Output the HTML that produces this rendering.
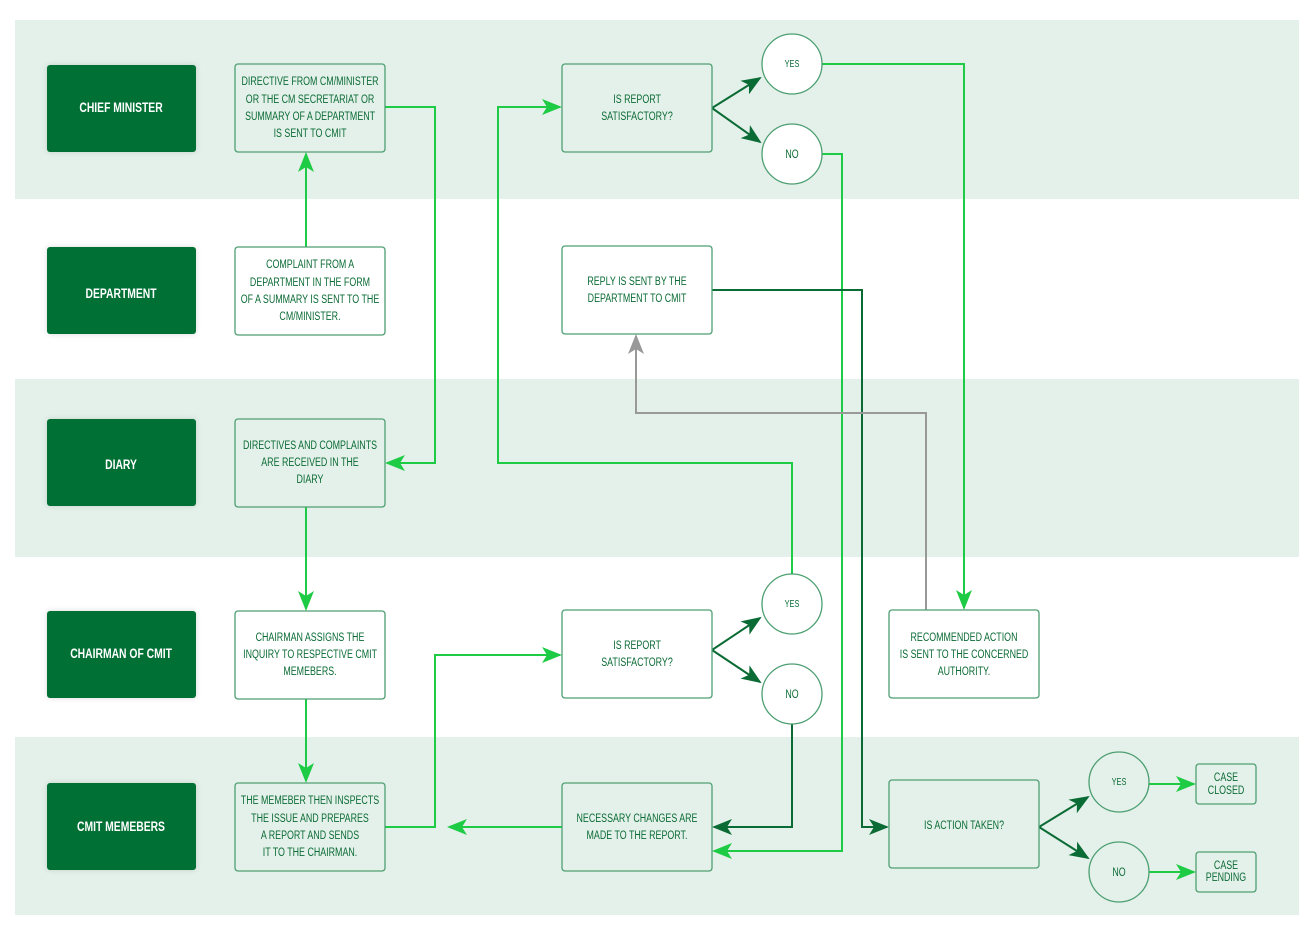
<!DOCTYPE html>
<html><head><meta charset="utf-8"><style>
html,body{margin:0;padding:0;background:#fff;}
svg{display:block;}
text{font-family:"Liberation Sans Narrow","Liberation Sans",sans-serif;transform-box:fill-box;transform-origin:center;transform:scaleX(0.74);}
.lbl{fill:#fff;font-weight:bold;font-size:14px;text-anchor:middle;}
.t{fill:#0b6b35;font-size:12px;text-anchor:middle;}
.box{fill:none;stroke:#4d9f72;stroke-width:1.3;}
.lab{fill:#006f35;}
.g{fill:none;stroke:#1ecb45;stroke-width:2;}
.d{fill:none;stroke:#0b6b35;stroke-width:2;}
.y{fill:none;stroke:#999;stroke-width:2;}
</style></head><body>
<svg width="1315" height="929" viewBox="0 0 1315 929" xmlns="http://www.w3.org/2000/svg">
<defs>
<marker id="ag" viewBox="0 0 20 16" refX="18" refY="8" markerWidth="20" markerHeight="16" markerUnits="userSpaceOnUse" orient="auto"><path d="M0,0 L20,8 L0,16 L5,8 Z" fill="#1ecb45"/></marker>
<marker id="ad" viewBox="0 0 20 16" refX="18" refY="8" markerWidth="20" markerHeight="16" markerUnits="userSpaceOnUse" orient="auto"><path d="M0,0 L20,8 L0,16 L5,8 Z" fill="#0b6b35"/></marker>
<marker id="ay" viewBox="0 0 20 16" refX="18" refY="8" markerWidth="20" markerHeight="16" markerUnits="userSpaceOnUse" orient="auto"><path d="M0,0 L20,8 L0,16 L5,8 Z" fill="#999"/></marker>
<filter id="sh" x="-20%" y="-20%" width="140%" height="140%"><feDropShadow dx="0" dy="0" stdDeviation="3" flood-color="#000" flood-opacity="0.15"/></filter>
</defs>
<rect x="15" y="20" width="1284" height="179" fill="#e4f1ea"/>
<rect x="15" y="379" width="1284" height="178" fill="#e4f1ea"/>
<rect x="15" y="737" width="1284" height="178" fill="#e4f1ea"/>

<g filter="url(#sh)">
<rect class="lab" x="47" y="65" width="149" height="87" rx="3"/>
<rect class="lab" x="47" y="247" width="149" height="87" rx="3"/>
<rect class="lab" x="47" y="419" width="149" height="87" rx="3"/>
<rect class="lab" x="47" y="611" width="149" height="87" rx="3"/>
<rect class="lab" x="47" y="783" width="149" height="87" rx="3"/>
</g>
<text class="lbl" x="121" y="112">CHIEF MINISTER</text>
<text class="lbl" x="121" y="298">DEPARTMENT</text>
<text class="lbl" x="121" y="469">DIARY</text>
<text class="lbl" x="121" y="658">CHAIRMAN OF CMIT</text>
<text class="lbl" x="121" y="831">CMIT MEMEBERS</text>

<path class="g" d="M306,247 V154" marker-end="url(#ag)"/>
<path class="g" d="M385,107 H435 V463 H387" marker-end="url(#ag)"/>
<path class="g" d="M306,507 V609" marker-end="url(#ag)"/>
<path class="g" d="M306,699 V781" marker-end="url(#ag)"/>
<path class="g" d="M385,827 H435 V655 H560" marker-end="url(#ag)"/>
<path class="g" d="M562,827 H449" marker-end="url(#ag)"/>
<path class="d" d="M712,650 L760,618" marker-end="url(#ad)"/>
<path class="d" d="M712,650 L760,682" marker-end="url(#ad)"/>
<path class="g" d="M792,574 V463 H498 V107 H560" marker-end="url(#ag)"/>
<path class="d" d="M792,724 V827 H714" marker-end="url(#ad)"/>
<path class="d" d="M712,108 L760,78" marker-end="url(#ad)"/>
<path class="d" d="M712,108 L760,142" marker-end="url(#ad)"/>
<path class="g" d="M822,64 H964 V608" marker-end="url(#ag)"/>
<path class="g" d="M822,154 H842 V851 H714" marker-end="url(#ag)"/>
<path class="d" d="M712,290 H862 V827 H887" marker-end="url(#ad)"/>
<path class="y" d="M926,610 V413 H636 V336" marker-end="url(#ay)"/>
<path class="d" d="M1039,827 L1088,797" marker-end="url(#ad)"/>
<path class="d" d="M1039,827 L1088,858" marker-end="url(#ad)"/>
<path class="g" d="M1149,784 H1194" marker-end="url(#ag)"/>
<path class="g" d="M1149,872 H1194" marker-end="url(#ag)"/>

<g>
<rect class="box" x="235" y="64" width="150" height="88" rx="3"/>
<rect class="box" x="235" y="247" width="150" height="88" rx="3" style="fill:#fff"/>
<rect class="box" x="235" y="419" width="150" height="88" rx="3"/>
<rect class="box" x="235" y="611" width="150" height="88" rx="3" style="fill:#fff"/>
<rect class="box" x="235" y="783" width="150" height="88" rx="3"/>
<rect class="box" x="562" y="64" width="150" height="88" rx="3"/>
<rect class="box" x="562" y="246" width="150" height="88" rx="3" style="fill:#fff"/>
<rect class="box" x="562" y="610" width="150" height="88" rx="3" style="fill:#fff"/>
<rect class="box" x="562" y="783" width="150" height="88" rx="3"/>
<rect class="box" x="889" y="610" width="150" height="88" rx="3" style="fill:#fff"/>
<rect class="box" x="889" y="780" width="150" height="88" rx="3"/>
<rect class="box" x="1196" y="764" width="60" height="40" rx="3"/>
<rect class="box" x="1196" y="852" width="60" height="40" rx="3"/>
<circle class="box" cx="792" cy="64" r="30" style="fill:#fff"/>
<circle class="box" cx="792" cy="154" r="30" style="fill:#fff"/>
<circle class="box" cx="792" cy="604" r="30" style="fill:#fff"/>
<circle class="box" cx="792" cy="694" r="30" style="fill:#fff"/>
<circle class="box" cx="1119" cy="782" r="30"/>
<circle class="box" cx="1119" cy="872" r="30"/>
</g>

<text class="t" x="310" y="85">DIRECTIVE FROM CM/MINISTER</text>
<text class="t" x="310" y="103">OR THE CM SECRETARIAT OR</text>
<text class="t" x="310" y="120">SUMMARY OF A DEPARTMENT</text>
<text class="t" x="310" y="137">IS SENT TO CMIT</text>
<text class="t" x="310" y="268">COMPLAINT FROM A</text>
<text class="t" x="310" y="286">DEPARTMENT IN THE FORM</text>
<text class="t" x="310" y="303">OF A SUMMARY IS SENT TO THE</text>
<text class="t" x="310" y="320">CM/MINISTER.</text>
<text class="t" x="310" y="449">DIRECTIVES AND COMPLAINTS</text>
<text class="t" x="310" y="466">ARE RECEIVED IN THE</text>
<text class="t" x="310" y="483">DIARY</text>
<text class="t" x="310" y="641">CHAIRMAN ASSIGNS THE</text>
<text class="t" x="310" y="658">INQUIRY TO RESPECTIVE CMIT</text>
<text class="t" x="310" y="675">MEMEBERS.</text>
<text class="t" x="310" y="804">THE MEMEBER THEN INSPECTS</text>
<text class="t" x="310" y="822">THE ISSUE AND PREPARES</text>
<text class="t" x="310" y="839">A REPORT AND SENDS</text>
<text class="t" x="310" y="856">IT TO THE CHAIRMAN.</text>
<text class="t" x="637" y="103">IS REPORT</text>
<text class="t" x="637" y="120">SATISFACTORY?</text>
<text class="t" x="637" y="285">REPLY IS SENT BY THE</text>
<text class="t" x="637" y="302">DEPARTMENT TO CMIT</text>
<text class="t" x="637" y="649">IS REPORT</text>
<text class="t" x="637" y="666">SATISFACTORY?</text>
<text class="t" x="637" y="822">NECESSARY CHANGES ARE</text>
<text class="t" x="637" y="839">MADE TO THE REPORT.</text>
<text class="t" x="964" y="641">RECOMMENDED ACTION</text>
<text class="t" x="964" y="658">IS SENT TO THE CONCERNED</text>
<text class="t" x="964" y="675">AUTHORITY.</text>
<text class="t" x="964" y="829">IS ACTION TAKEN?</text>
<text class="t" x="792" y="67" style="font-size:10px">YES</text>
<text class="t" x="792" y="158">NO</text>
<text class="t" x="792" y="607" style="font-size:10px">YES</text>
<text class="t" x="792" y="698">NO</text>
<text class="t" x="1119" y="785" style="font-size:10px">YES</text>
<text class="t" x="1119" y="876">NO</text>
<text class="t" x="1226" y="781">CASE</text>
<text class="t" x="1226" y="794">CLOSED</text>
<text class="t" x="1226" y="869">CASE</text>
<text class="t" x="1226" y="881">PENDING</text>
</svg>
</body></html>
